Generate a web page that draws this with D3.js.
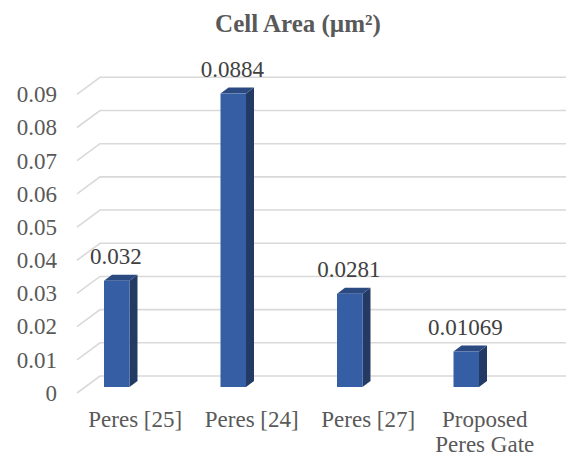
<!DOCTYPE html>
<html>
<head>
<meta charset="utf-8">
<script src="https://cdn.jsdelivr.net/npm/d3@7/dist/d3.min.js"></script>
<style>
  html, body { margin: 0; padding: 0; background: #fff; }
</style>
</head>
<body>
<svg id="chart" width="566" height="459"></svg>
<script>
// Cell area per design
const categories = ["Peres [25]", "Peres [24]", "Peres [27]", "Proposed Peres Gate"];
const cellArea = [0.032, 0.0884, 0.0281, 0.01069];
const valueLabels = ["0.032", "0.0884", "0.0281", "0.01069"];
const tickValues = [0, 0.01, 0.02, 0.03, 0.04, 0.05, 0.06, 0.07, 0.08, 0.09];
const chartTitle = "Cell Area (\u00b5m\u00b2)";

const FONT = "'Liberation Serif', 'Times New Roman', serif";
const FS = 23;

const svg = d3.select("#chart");

// Back wall of the 3-D plot area
const wallLeft = 100, wallRight = 566;
const depthX = -23, depthY = 17;          // floor depth (back -> front)
const barFrontY = 11;                     // bar front plane offset from back wall
const barDepthX = 8, barDepthY = -6;      // bar thickness (front -> back)

const x = d3.scaleBand().domain(categories).range([wallLeft, wallRight]);
const y = d3.scaleLinear().domain([0, 0.09]).range([376, 77.3]);

// Gridlines with their slanted floor-side segment
svg.append("g")
  .selectAll("path")
  .data(tickValues)
  .join("path")
  .attr("d", d => `M${wallLeft + depthX},${y(d) + depthY} L${wallLeft},${y(d)} L${wallRight},${y(d)}`)
  .attr("fill", "none")
  .attr("stroke", "#d9d9d9")
  .attr("stroke-width", 1.6);

// Value axis labels
const yAxis = d3.axisLeft(y)
  .tickValues(tickValues)
  .tickSize(0)
  .tickPadding(0)
  .tickFormat(d => d === 0 ? "0" : d3.format(".2f")(d));

svg.append("g")
  .attr("transform", `translate(57,${depthY})`)
  .call(yAxis)
  .call(g => g.select(".domain").remove())
  .call(g => g.selectAll("text")
    .style("font-family", FONT)
    .style("font-size", FS + "px")
    .attr("fill", "#595959"));

// Bars: front, side and top faces
const barW = 25.5;
const bars = svg.append("g").selectAll("g")
  .data(categories.map((c, i) => ({ c, v: cellArea[i], label: valueLabels[i] })))
  .join("g");

const x0 = d => x(d.c) + 4;
const x1 = d => x0(d) + barW;
const yTop = d => y(d.v) + barFrontY;
const yBase = y(0) + barFrontY;

bars.append("path")
  .attr("fill", "#223a64")
  .attr("d", d => `M${x1(d)},${yTop(d)} L${x1(d) + barDepthX},${yTop(d) + barDepthY} L${x1(d) + barDepthX},${yBase + barDepthY} L${x1(d)},${yBase} Z`);

bars.append("path")
  .attr("fill", "#2b4a82")
  .attr("d", d => `M${x0(d)},${yTop(d)} L${x0(d) + barDepthX},${yTop(d) + barDepthY} L${x1(d) + barDepthX},${yTop(d) + barDepthY} L${x1(d)},${yTop(d)} Z`);

bars.append("rect")
  .attr("fill", "#355ea4")
  .attr("x", x0)
  .attr("y", yTop)
  .attr("width", barW)
  .attr("height", d => yBase - yTop(d));

// Data labels above each bar
bars.append("text")
  .attr("x", d => x0(d) + barW / 2 - 1)
  .attr("y", d => yTop(d) - 17)
  .attr("text-anchor", "middle")
  .style("font-family", FONT)
  .style("font-size", FS + "px")
  .attr("fill", "#404040")
  .text(d => d.label);

// Category labels along the front edge, wrapped to the band width
const catG = svg.append("g");
categories.forEach(c => {
  const cx = x(c) + x.bandwidth() / 2 + depthX;
  const t = catG.append("text")
    .attr("x", cx)
    .attr("y", 426.5)
    .attr("text-anchor", "middle")
    .style("font-family", FONT)
    .style("font-size", FS + "px")
    .attr("fill", "#595959")
    .text(c);
  if (t.node().getComputedTextLength() > x.bandwidth()) {
    const words = c.split(" ");
    const lines = [words[0], words.slice(1).join(" ")];
    t.text(null);
    lines.forEach((ln, k) => {
      t.append("tspan").attr("x", cx).attr("dy", k === 0 ? 0 : 25).text(ln);
    });
  }
});

// Title
svg.append("text")
  .attr("x", 298)
  .attr("y", 32)
  .attr("text-anchor", "middle")
  .style("font-family", FONT)
  .style("font-size", "25px")
  .style("font-weight", "bold")
  .attr("fill", "#595959")
  .text(chartTitle);
</script>
</body>
</html>
